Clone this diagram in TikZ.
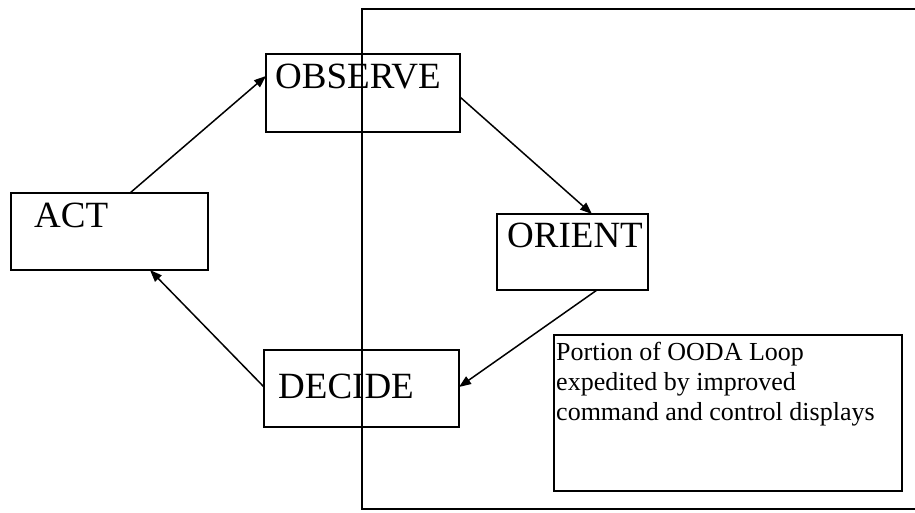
\documentclass[tikz,border=0pt]{standalone}
\usepackage{fontspec}
\setmainfont{Liberation Serif}
\usetikzlibrary{arrows.meta}
\begin{document}
\begin{tikzpicture}[x=1pt,y=-1pt,
  box/.style={draw, line width=1.8pt, rectangle, inner sep=0, outer sep=0},
  big/.style={inner sep=0, anchor=base west, font=\fontsize{37}{44}\selectfont},
  small/.style={inner sep=0, anchor=base west, font=\fontsize{26}{30}\selectfont},
  arr/.style={line width=1.5pt, -{Triangle[length=12pt,width=9pt]}}]
\useasboundingbox (0,0) rectangle (915,512);
% boxes
\node[box, minimum width=197pt, minimum height=77pt] (act) at (109.5,231.5) {};
\node[box, minimum width=194pt, minimum height=78pt] (observe) at (363,93) {};
\node[box, minimum width=151pt, minimum height=76pt] (orient) at (572.5,252) {};
\node[box, minimum width=195pt, minimum height=77pt] (decide) at (361.5,388.5) {};
\node[box, minimum width=348pt, minimum height=156pt] (portion) at (728,413) {};
% labels
\node[big] (tact) at (34,227) {ACT};
\node[big] (tobserve) at (275,88) {OBSERVE};
\node[big] (torient) at (507,247) {ORIENT};
\node[big] (tdecide) at (278,398) {DECIDE};
\node[small] (p1) at (556,360) {Portion of OODA Loop};
\node[small] (p2) at (556,390) {expedited by improved};
\node[small] (p3) at (556,420) {command and control displays};
% large open rectangle
\coordinate (tl) at (362,9);
\coordinate (tr) at (915,9);
\coordinate (bl) at (362,509);
\coordinate (br) at (915,509);
\draw[line width=1.8pt] (br) -- (bl) -- (tl) -- (tr);
% arrows
\draw[arr] ([xshift=119pt]act.north west) -- ([yshift=-22pt]observe.north west);
\draw[arr] ([yshift=-43pt]observe.north east) -- ([xshift=95pt]orient.north west);
\draw[arr] ([xshift=100pt]orient.south west) -- ([yshift=-37pt]decide.north east);
\draw[arr] ([yshift=-37pt]decide.north west) -- ([xshift=139pt]act.south west);
\end{tikzpicture}
\end{document}
